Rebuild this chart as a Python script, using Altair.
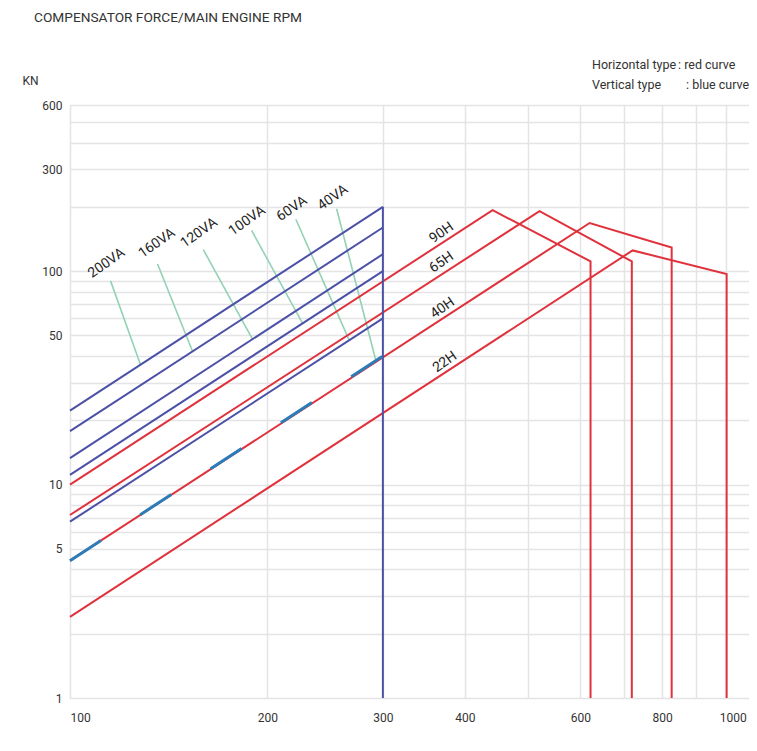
import altair as alt
import pandas as pd

# ---------------- data ----------------
x_grid = [100, 200, 300, 400, 500, 600, 700, 800, 900, 1000]
x_labels = [100, 200, 300, 400, 600, 800, 1000]
y_grid = [1, 2, 3, 4, 5, 6, 7, 8, 9, 10, 20, 30, 40, 50, 60, 70, 80, 90,
          100, 200, 300, 400, 500, 600]
y_labels = [1, 5, 10, 50, 100, 300, 600]

# Vertical type (blue) curves: force (kN) at 100 rpm and at 300 rpm
va_names = ["200VA", "160VA", "120VA", "100VA", "60VA", "40VA"]
va_rpm = [100, 300]
va_start = [22.2, 17.8, 13.3, 11.1, 6.7, 4.4]
va_end = [200, 160, 120, 100, 60, 40]

# blue limit line at 300 rpm
limit_rpm = [300, 300]
limit_kn = [1, 200]

# Horizontal type (red) curves: polyline vertices
h_names = ["90H", "65H", "40H", "22H"]
h_rpm = [[100, 441, 622, 622],
         [100, 520, 719, 719],
         [100, 620, 827, 827],
         [100, 721, 1003, 1003]]
h_kn = [[10, 193, 111, 1],
        [7.2, 191, 111, 1],
        [4.4, 168, 129, 1],
        [2.4, 125, 97, 1]]

# curve labels and leader lines
va_label_rpm = [113.7, 135.7, 157.3, 186.2, 218, 251.7]
va_label_kn = [109, 135, 151, 172, 196, 221]
leader_start_rpm = [115.3, 136, 159.7, 189.2, 221, 255]
leader_start_kn = [90, 108, 126, 155, 175, 196]
leader_end_rpm = [128.1, 153.8, 189.8, 226.3, 266.6, 292.7]
leader_end_kn = [36.4, 42.0, 48.0, 56.9, 47.4, 38.1]
h_label_rpm = [368.7, 368.7, 370, 373]
h_label_kn = [151, 110, 67, 37.5]

title_text = "COMPENSATOR FORCE/MAIN ENGINE RPM"
note_rows = [("Horizontal  type", ": red curve"), ("Vertical type", ": blue curve")]

# ---------------- tables ----------------
va_df = pd.DataFrame([
    {"series": n, "rpm": r, "kn": v}
    for n, s, e in zip(va_names, va_start, va_end)
    for r, v in zip(va_rpm, [s, e])
])
va_main = va_df[va_df.series != "40VA"]
va_40 = va_df[va_df.series == "40VA"]

limit_df = pd.DataFrame({"rpm": limit_rpm, "kn": limit_kn, "idx": [0, 1]})

h_df = pd.DataFrame([
    {"series": n, "rpm": r, "kn": v, "idx": i}
    for n, rs, vs in zip(h_names, h_rpm, h_kn)
    for i, (r, v) in enumerate(zip(rs, vs))
])

leader_df = pd.DataFrame([
    {"series": n, "rpm": r, "kn": v, "idx": i}
    for n, r1, v1, r2, v2 in zip(va_names, leader_start_rpm, leader_start_kn,
                                 leader_end_rpm, leader_end_kn)
    for i, (r, v) in enumerate([(r1, v1), (r2, v2)])
])

va_lab_df = pd.DataFrame({"t": va_names, "rpm": va_label_rpm, "kn": va_label_kn})
h_lab_df = pd.DataFrame({"t": h_names, "rpm": h_label_rpm, "kn": h_label_kn})

# ---------------- styling ----------------
BLUE = "#4b51a6"
RED = "#e0323c"
DASHBLUE = "#2b7cb9"
GREEN = "#93d2b4"
TXT = "#333333"
FONT = "Roboto"

lab_list = ",".join(str(v) for v in x_labels)
ylab_list = ",".join(str(v) for v in y_labels)

X = alt.X(
    "rpm:Q",
    scale=alt.Scale(type="log", domain=[100, 1085]),
    axis=alt.Axis(
        values=x_grid, grid=True, gridColor="#e4e4e6", gridWidth=1.5,
        ticks=False, domain=False, labelOverlap=False,
        labelExpr=f"indexof([{lab_list}], datum.value) >= 0 ? datum.value + '' : ''",
        labelAlign={"condition": {"test": "datum.value == 100", "value": "left"},
                    "value": "center"},
        labelOffset={"condition": {"test": "datum.value == 1000", "value": 7}, "value": 0},
        labelPadding=14, labelFontSize=12, labelColor=TXT, labelFont=FONT,
        title=None,
    ),
)
Y = alt.Y(
    "kn:Q",
    scale=alt.Scale(type="log", domain=[1, 600]),
    axis=alt.Axis(
        values=y_grid, grid=True, gridColor="#e4e4e6", gridWidth=1.5,
        ticks=False, domain=False, labelOverlap=False,
        labelExpr=f"indexof([{ylab_list}], datum.value) >= 0 ? datum.value + '' : ''",
        labelPadding=8, labelFontSize=12, labelColor=TXT, labelFont=FONT,
        title="KN", titleAngle=0, titleX=-40, titleY=-25, titleAlign="center",
        titleBaseline="middle", titleFontWeight="normal", titleFontSize=12,
        titleColor=TXT, titleFont=FONT,
    ),
)

leaders = alt.Chart(leader_df).mark_line(color=GREEN, strokeWidth=1.6).encode(
    x=X, y=Y, detail="series:N", order="idx:Q")

va_lines = alt.Chart(va_main).mark_line(color=BLUE, strokeWidth=2).encode(
    x=X, y=Y, detail="series:N")

h_lines = alt.Chart(h_df).mark_line(color=RED, strokeWidth=2).encode(
    x=X, y=Y, detail="series:N", order="idx:Q")

limit_line = alt.Chart(limit_df).mark_line(color=BLUE, strokeWidth=2).encode(
    x=X, y=Y, order="idx:Q")

va40_line = alt.Chart(va_40).mark_line(color=DASHBLUE, strokeWidth=3,
                                       strokeDash=[37, 47]).encode(x=X, y=Y)

va_text = alt.Chart(va_lab_df).mark_text(
    angle=325, fontSize=14, color="#222222", font=FONT,
    align="center", baseline="middle").encode(x=X, y=Y, text="t:N")

h_text = alt.Chart(h_lab_df).mark_text(
    angle=325, fontSize=14, color="#222222", font=FONT,
    align="center", baseline="middle").encode(x=X, y=Y, text="t:N")

title_mark = alt.Chart(pd.DataFrame({"t": [title_text]})).mark_text(
    align="left", baseline="middle", fontSize=13.7, color=TXT, font=FONT).encode(
    x=alt.value(-36), y=alt.value(-87), text="t:N")

notes = []
colon_x = [608, 616]
for i, (left, right) in enumerate(note_rows):
    yy = -40 + 20 * i
    notes.append(alt.Chart(pd.DataFrame({"t": [left]})).mark_text(
        align="left", baseline="middle", fontSize=12.5, color=TXT, font=FONT).encode(
        x=alt.value(522), y=alt.value(yy), text="t:N"))
    notes.append(alt.Chart(pd.DataFrame({"t": [right]})).mark_text(
        align="left", baseline="middle", fontSize=12.5, color=TXT, font=FONT).encode(
        x=alt.value(colon_x[i]), y=alt.value(yy), text="t:N"))

chart = alt.layer(
    leaders, va_lines, h_lines, limit_line, va40_line, va_text, h_text,
    title_mark, *notes
).properties(
    width=679, height=593,
    autosize=alt.AutoSizeParams(type="none"),
    padding={"left": 62, "top": 97, "right": 0, "bottom": 36},
).configure_view(stroke=None).configure(font=FONT)

chart.save("out.html", embed_options={"renderer": "svg", "actions": False})
